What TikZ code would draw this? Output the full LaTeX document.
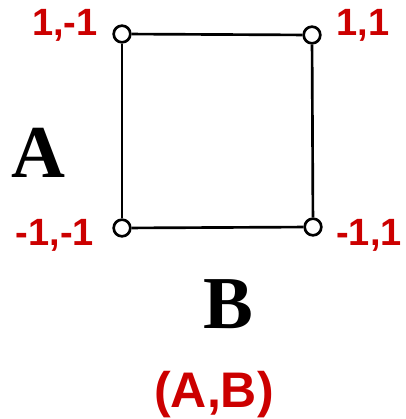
\documentclass[tikz,border=0pt]{standalone}
\usepackage{fontspec}
\setmainfont{Liberation Serif}
\newfontfamily\labelfont{Liberation Sans}
\definecolor{primary}{RGB}{204, 0, 0}
\usetikzlibrary{positioning}

\tikzset{
  corner/.style={circle, draw=black, fill=white, line width=2pt, minimum size=12.5pt, inner sep=0pt},
  edge/.style={draw=black, line width=2pt},
  value/.style={text=primary, font=\labelfont\bfseries\fontsize{28.5}{30}\selectfont, inner sep=0pt},
  axis/.style={text=black, font=\bfseries\fontsize{56}{60}\selectfont, inner sep=0pt},
  pair/.style={text=primary, font=\labelfont\bfseries\fontsize{37.5}{40}\selectfont, inner sep=0pt}
}

\begin{document}
\begin{tikzpicture}[x=0.75pt, y=0.75pt]
  \useasboundingbox (0,0) rectangle (405,419);
  % corners of the square
  \node[corner] (tl) at (122,385) {};
  \node[corner] (tr) at (312,384) {};
  \node[corner] (bl) at (122,191) {};
  \node[corner] (br) at (313,192) {};
  \draw[edge] (tl) -- (tr);
  \draw[edge] (tr) -- (br);
  \draw[edge] (br) -- (bl);
  \draw[edge] (bl) -- (tl);
  % corner values
  \node[value] (vtl) at (65,394) {1,-1};
  \node[value] (vtr) at (363,394) {1,1};
  \node[value] (vbl) at (55,184) {-1,-1};
  \node[value] (vbr) at (369,184) {-1,1};
  % players
  \node[axis] (pa) at (38,266) {A};
  \node[axis] (pb) at (228,115) {B};
  \node[pair] (ab) at (214,24) {(A,B)};
\end{tikzpicture}
\end{document}
